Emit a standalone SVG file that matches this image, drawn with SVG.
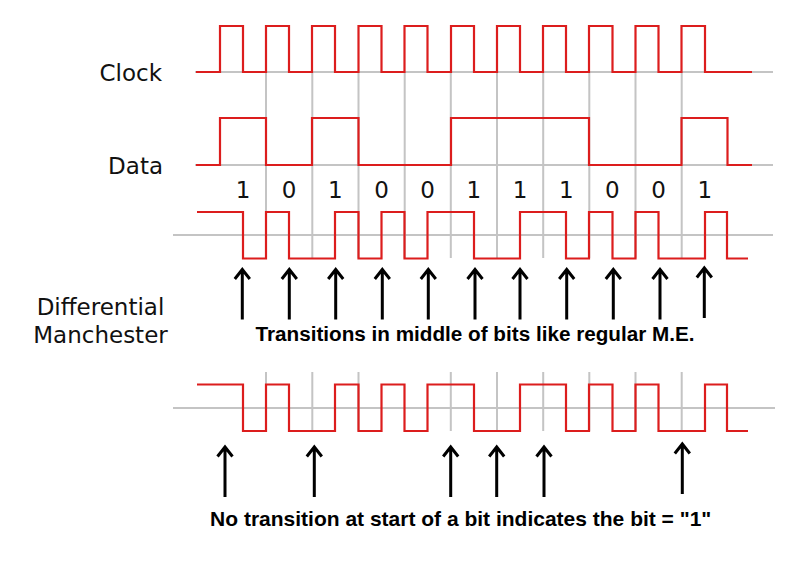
<svg xmlns="http://www.w3.org/2000/svg" width="801" height="583" viewBox="0 0 801 583">
<style>
.grid{stroke:#c4c4c4;stroke-width:2;fill:none}
.sig{stroke:#dc1d1d;stroke-width:2.2;fill:none;stroke-linejoin:miter}
.arr{stroke:#000;stroke-width:3;fill:none}
.lbl{font-family:"DejaVu Sans",sans-serif;font-size:23px;fill:#111}
.bit{font-family:"DejaVu Sans",sans-serif;font-size:23px;fill:#111;text-anchor:middle}
.note{font-family:"Liberation Sans",Arial,sans-serif;font-weight:bold;fill:#000;text-anchor:middle}
</style>
<rect width="801" height="583" fill="#fff"/>
<g id="grid">
<path class="grid" d="M195,72H773M195,165H773M173,235H773M173,408H775"/>
<path class="grid" d="M266,72V258M312.3,72V258M358.5,72V258M404.7,72V258M450.8,72V258M497,72V258M543.2,72V258M589.3,72V258M635.5,72V258M681.7,72V258"/>
<path class="grid" d="M266,372V431M312.3,372V431M358.5,372V431M450.8,372V431M497,372V431M543.2,372V431M589.3,372V431M635.5,372V431M681.7,372V431"/>
</g>
<g id="labels">
<text class="lbl" x="162" y="81" text-anchor="end">Clock</text>
<text class="lbl" x="163" y="174" text-anchor="end">Data</text>
<text class="lbl" x="100.5" y="315" text-anchor="middle">Differential</text>
<text class="lbl" x="100.5" y="343" text-anchor="middle">Manchester</text>
</g>
<g id="clock">
<path class="sig" d="M196,72H220V26H243V72H266V26H289V72H312V26H335V72H358.5V26H381.5V72H404.5V26H427.5V72H451V26H474V72H497V26H520V72H543V26H566V72H589V26H612.5V72H635.5V26H658.5V72H681.5V26H705V72H752"/>
</g>
<g id="data">
<path class="sig" d="M196,165H220V118H266V165H312V118H358.5V165H451V118H589V165H681.5V118H727.5V165H752"/>
</g>
<g id="bits">
<text class="bit" x="243" y="198">1</text>
<text class="bit" x="289" y="198">0</text>
<text class="bit" x="335.3" y="198">1</text>
<text class="bit" x="381.5" y="198">0</text>
<text class="bit" x="427.6" y="198">0</text>
<text class="bit" x="473.8" y="198">1</text>
<text class="bit" x="520" y="198">1</text>
<text class="bit" x="566.2" y="198">1</text>
<text class="bit" x="612.4" y="198">0</text>
<text class="bit" x="658.5" y="198">0</text>
<text class="bit" x="704.7" y="198">1</text>
</g>
<g id="dm-upper">
<path class="sig" d="M197,212H243V258.5H266V212H289V258.5H335V212H358.5V258.5H381.5V212H404.5V258.5H427.5V212H474V258.5H520V212H566V258.5H589V212H612.5V258.5H635.5V212H658.5V258.5H705V212H727V258.5H748"/>
</g>
<g id="dm-lower">
<path class="sig" d="M197,384.5H243V431H266V384.5H289V431H335V384.5H358.5V431H381.5V384.5H404.5V431H427.5V384.5H474V431H520V384.5H566V431H589V384.5H612.5V431H635.5V384.5H658.5V431H705V384.5H727V431H748"/>
</g>
<g id="connectors">
<path class="arr" d="M242.3,319.5V269.5M234.8,279L242.3,269.5L249.8,279"/>
<path class="arr" d="M289.3,319.5V269.5M281.8,279L289.3,269.5L296.8,279"/>
<path class="arr" d="M335.7,319.5V269.5M328.2,279L335.7,269.5L343.2,279"/>
<path class="arr" d="M382.3,319.5V269.5M374.8,279L382.3,269.5L389.8,279"/>
<path class="arr" d="M428.3,319.5V269.5M420.8,279L428.3,269.5L435.8,279"/>
<path class="arr" d="M475,319.5V269.5M467.5,279L475,269.5L482.5,279"/>
<path class="arr" d="M520,319.5V269.5M512.5,279L520,269.5L527.5,279"/>
<path class="arr" d="M566.7,319.5V269.5M559.2,279L566.7,269.5L574.2,279"/>
<path class="arr" d="M613.3,319.5V269.5M605.8,279L613.3,269.5L620.8,279"/>
<path class="arr" d="M660,319.5V269.5M652.5,279L660,269.5L667.5,279"/>
<path class="arr" d="M704.3,318V268M696.8,277.5L704.3,268L711.8,277.5"/>
<path class="arr" d="M225,497V447M217.5,456.5L225,447L232.5,456.5"/>
<path class="arr" d="M314.3,497V447M306.8,456.5L314.3,447L321.8,456.5"/>
<path class="arr" d="M450.7,497V447M443.2,456.5L450.7,447L458.2,456.5"/>
<path class="arr" d="M496.7,497V447M489.2,456.5L496.7,447L504.2,456.5"/>
<path class="arr" d="M544,497V447M536.5,456.5L544,447L551.5,456.5"/>
<path class="arr" d="M682.3,494V444M674.8,453.5L682.3,444L689.8,453.5"/>
</g>
<g id="notes">
<text class="note" x="475" y="341" font-size="20.7">Transitions in middle of bits like regular M.E.</text>
<text class="note" x="460.7" y="526" font-size="21">No transition at start of a bit indicates the bit = "1"</text>
</g>
</svg>
